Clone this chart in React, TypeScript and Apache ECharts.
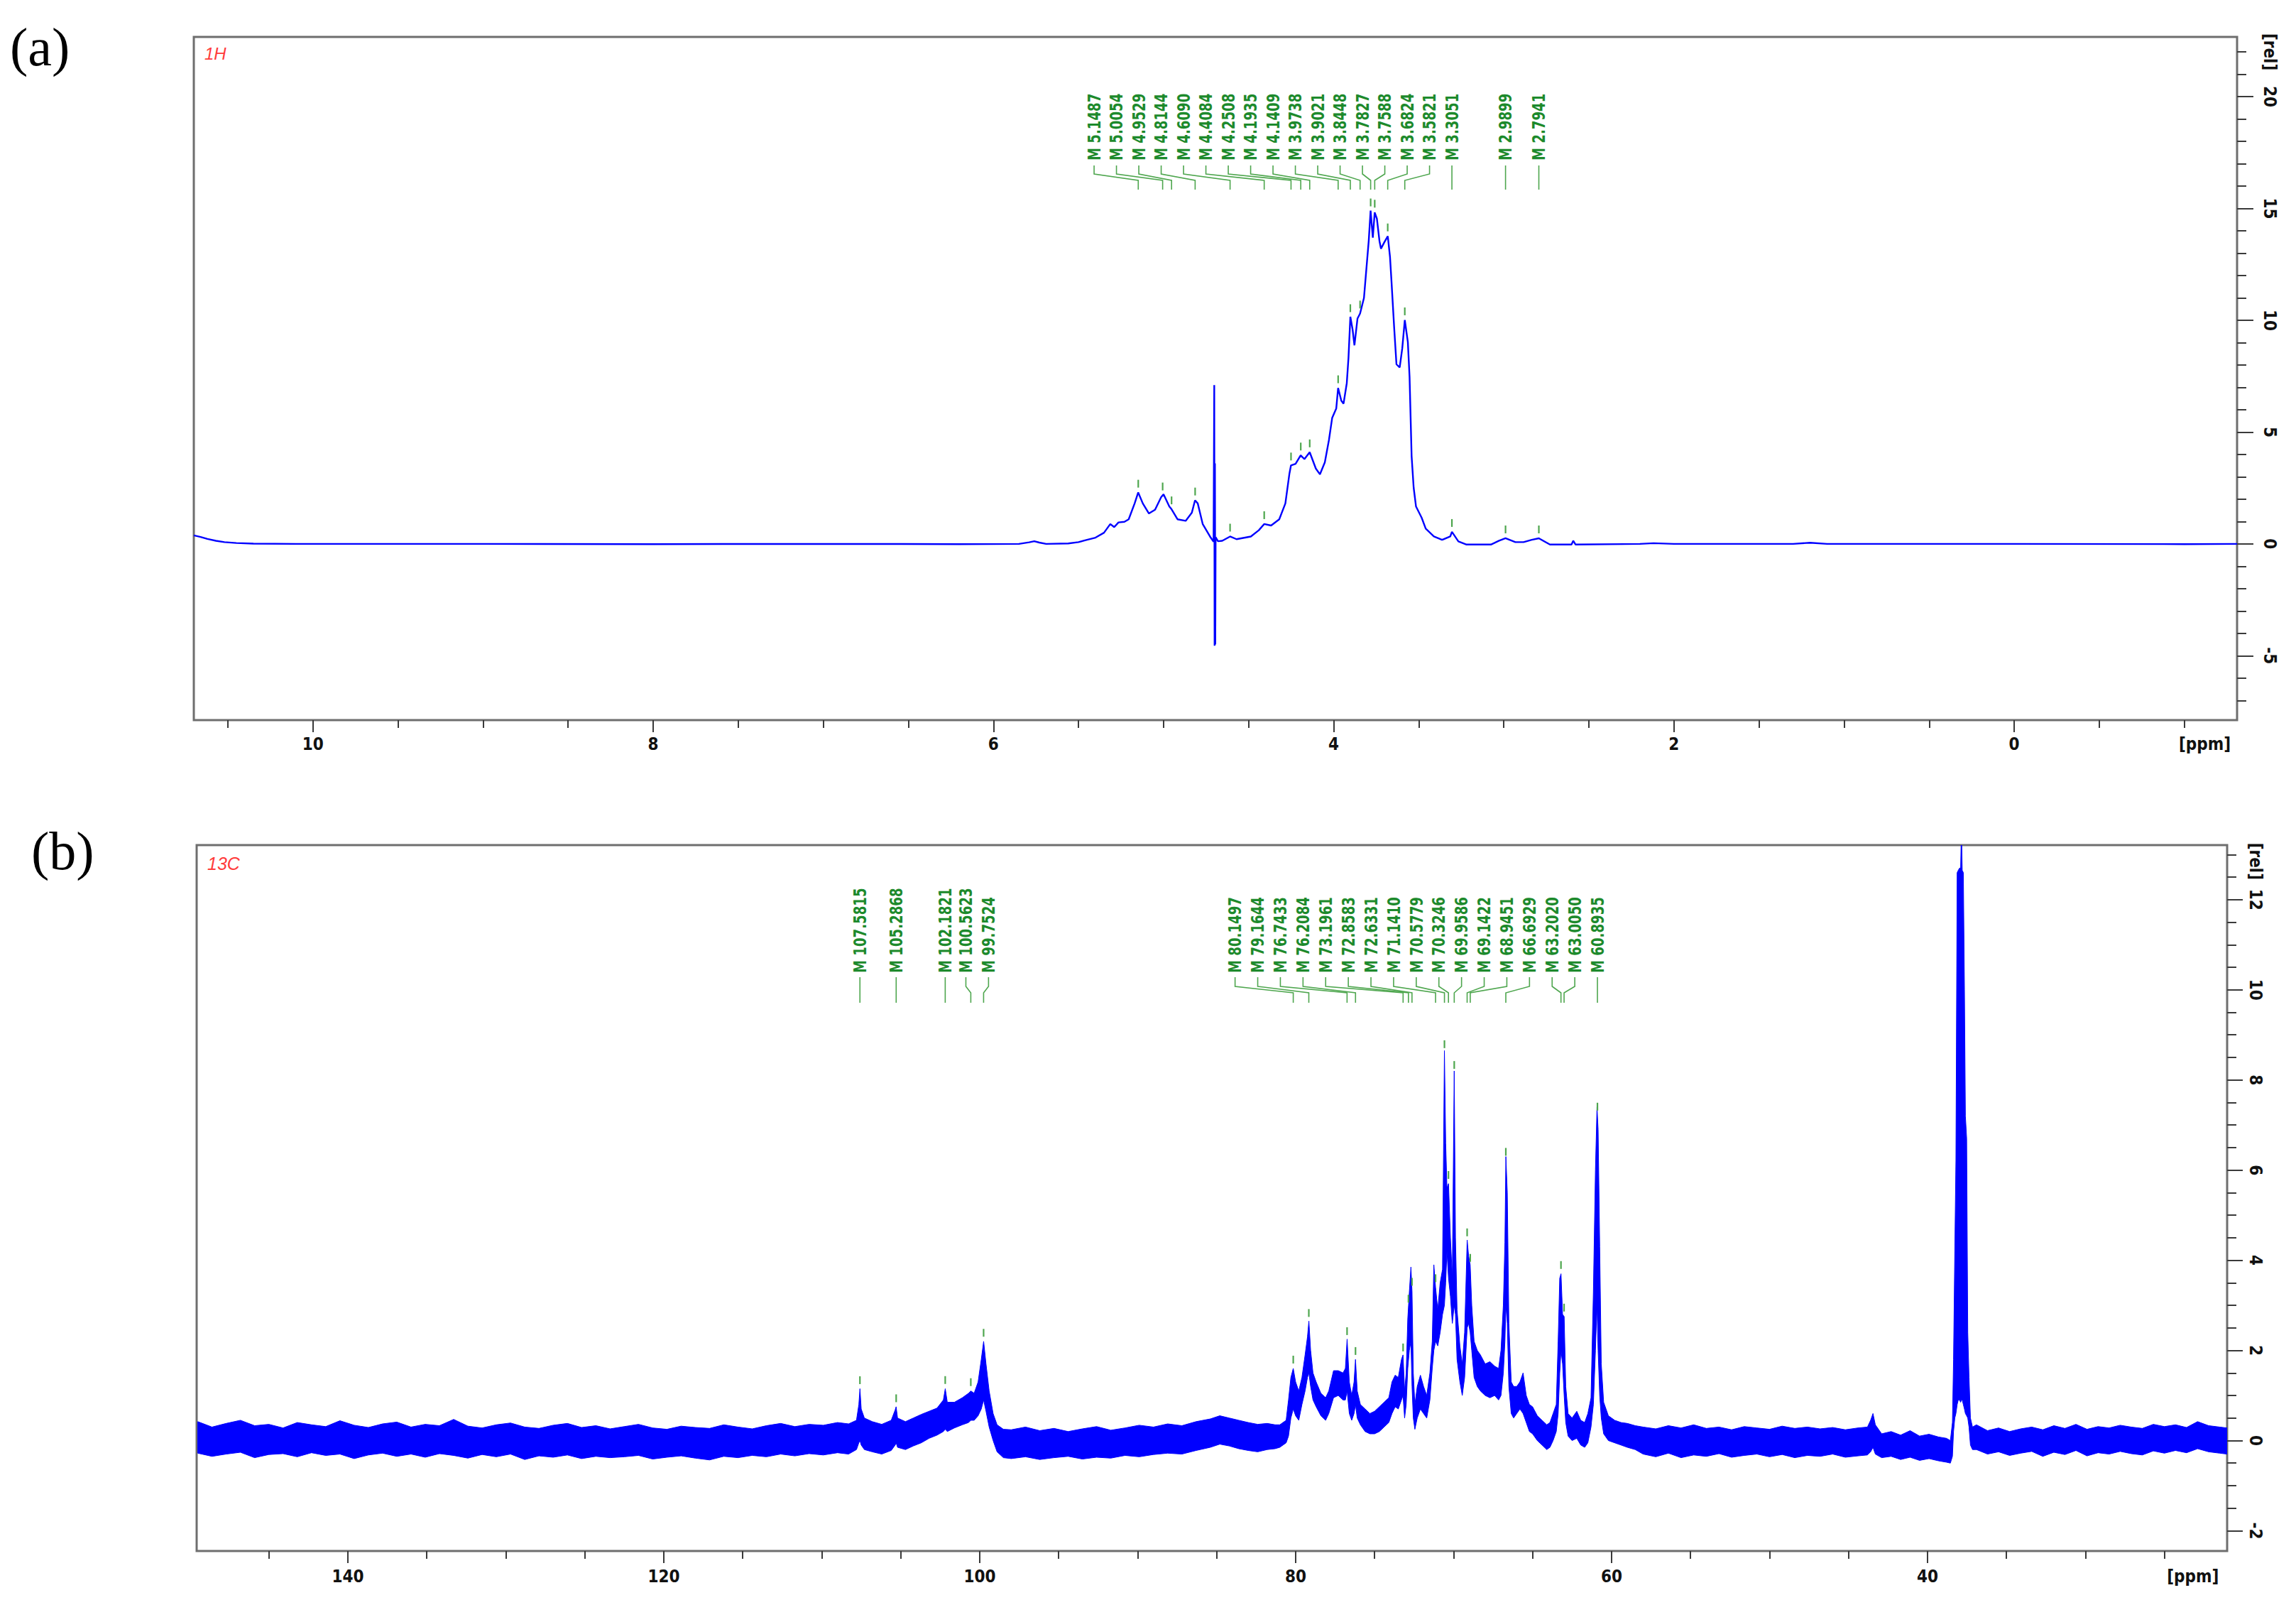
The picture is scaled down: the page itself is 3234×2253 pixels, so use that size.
import React, { useEffect, useRef } from "react";
import * as echarts from "echarts";

// ---------------- 1H spectrum (ppm, intensity) ----------------
const h1Spectrum: number[][] = [
  [10.70, 0.38], [10.66, 0.31], [10.62, 0.22], [10.57, 0.14], [10.52, 0.08], [10.45, 0.04], [10.35, 0.01],
  [10.1, 0.0], [9.0, 0.0], [8.0, -0.01], [7.0, 0.0], [6.2, -0.01], [5.85, 0.0], [5.79, 0.07], [5.76, 0.12],
  [5.73, 0.06], [5.69, 0.0], [5.56, 0.02], [5.5, 0.08], [5.45, 0.18], [5.40, 0.28], [5.35, 0.5], [5.313, 0.89],
  [5.29, 0.75], [5.265, 0.96], [5.23, 0.99], [5.205, 1.1], [5.17, 1.81], [5.149, 2.3], [5.122, 1.81],
  [5.086, 1.36], [5.05, 1.53], [5.014, 2.09], [5.0, 2.22], [4.966, 1.67], [4.953, 1.55], [4.918, 1.1],
  [4.87, 1.03], [4.834, 1.39], [4.815, 1.95], [4.799, 1.81], [4.77, 0.89], [4.727, 0.33], [4.706, 0.1],
  [4.702, 7.1], [4.700, -4.55], [4.698, 3.6], [4.696, -4.5], [4.694, 0.3], [4.68, 0.12], [4.655, 0.14],
  [4.609, 0.33], [4.571, 0.21], [4.487, 0.33], [4.44, 0.61], [4.408, 0.89], [4.368, 0.82], [4.32, 1.1],
  [4.284, 1.81], [4.26, 3.15], [4.251, 3.51], [4.224, 3.58], [4.194, 3.96], [4.172, 3.79], [4.141, 4.1],
  [4.105, 3.37], [4.081, 3.11], [4.052, 3.65], [4.028, 4.64], [4.009, 5.63], [3.985, 6.05], [3.974, 6.97],
  [3.955, 6.4], [3.942, 6.27], [3.923, 7.19], [3.913, 8.32], [3.902, 10.16], [3.889, 9.59], [3.878, 8.88],
  [3.86, 10.08], [3.845, 10.3], [3.822, 11.0], [3.808, 12.28], [3.794, 13.55], [3.783, 14.9], [3.770, 13.69],
  [3.759, 14.82], [3.746, 14.54], [3.731, 13.55], [3.722, 13.2], [3.703, 13.48], [3.682, 13.76],
  [3.669, 12.84], [3.660, 11.71], [3.645, 9.73], [3.631, 8.03], [3.612, 7.89], [3.597, 8.74], [3.582, 10.01],
  [3.564, 9.02], [3.554, 7.47], [3.542, 3.93], [3.530, 2.52], [3.516, 1.67], [3.483, 1.17], [3.459, 0.68],
  [3.411, 0.33], [3.363, 0.18], [3.315, 0.33], [3.305, 0.54], [3.267, 0.11], [3.219, -0.03], [3.076, -0.03],
  [3.028, 0.14], [2.99, 0.25], [2.932, 0.08], [2.884, 0.08], [2.836, 0.18], [2.794, 0.25], [2.729, -0.03],
  [2.602, -0.03], [2.592, 0.14], [2.578, -0.03], [2.2, 0.0], [2.12, 0.03], [2.0, 0.0], [1.3, 0.0],
  [1.2, 0.05], [1.1, 0.0], [0.0, 0.0], [-1.0, -0.01], [-1.31, 0.0],
];
const h1Peaks = [
  5.1487, 5.0054, 4.9529, 4.8144, 4.609, 4.4084, 4.2508, 4.1935, 4.1409, 3.9738, 3.9021, 3.8448,
  3.7827, 3.7588, 3.6824, 3.5821, 3.3051, 2.9899, 2.7941,
];

// ---------------- 13C spectrum: [ppm, upper edge, lower edge] of the noisy trace ----------------
const c13BaselineHigh: number[][] = [
  [149.5, 0.42, -0.28], [148.6, 0.30, -0.35], [147.7, 0.38, -0.30], [146.8, 0.45, -0.26], [145.9, 0.33, -0.38],
  [145.0, 0.36, -0.31], [144.1, 0.28, -0.29], [143.2, 0.40, -0.36], [142.3, 0.35, -0.27], [141.4, 0.31, -0.33],
  [140.5, 0.44, -0.30], [139.6, 0.34, -0.40], [138.7, 0.29, -0.32], [137.8, 0.37, -0.28], [136.9, 0.41, -0.35],
  [136.0, 0.30, -0.30], [135.1, 0.36, -0.37], [134.2, 0.33, -0.29], [133.3, 0.47, -0.33], [132.4, 0.32, -0.39],
  [131.5, 0.28, -0.31], [130.6, 0.35, -0.36], [129.7, 0.39, -0.30], [128.8, 0.30, -0.42], [127.9, 0.27, -0.34],
  [127.0, 0.34, -0.37], [126.1, 0.38, -0.32], [125.2, 0.29, -0.40], [124.3, 0.33, -0.35], [123.4, 0.26, -0.38],
  [122.5, 0.31, -0.36], [121.6, 0.36, -0.33], [120.7, 0.28, -0.41], [119.8, 0.25, -0.37], [118.9, 0.32, -0.34],
  [118.0, 0.29, -0.39], [117.1, 0.27, -0.43], [116.2, 0.35, -0.35], [115.3, 0.30, -0.38], [114.4, 0.26, -0.33],
  [113.5, 0.33, -0.36], [112.6, 0.38, -0.30], [111.7, 0.31, -0.34], [110.8, 0.36, -0.29], [109.9, 0.34, -0.32],
  [109.0, 0.40, -0.27], [108.3, 0.37, -0.30],
];
const c13Anomeric: number[][] = [
  [107.8, 0.45, -0.2], [107.65, 0.8, -0.05], [107.58, 1.15, 0.0], [107.5, 0.7, -0.1], [107.3, 0.5, -0.2],
  [106.8, 0.42, -0.25], [106.2, 0.36, -0.3], [105.6, 0.45, -0.22], [105.35, 0.68, -0.1], [105.29, 0.75, -0.05],
  [105.2, 0.5, -0.15], [104.7, 0.42, -0.2], [104.2, 0.5, -0.12], [103.7, 0.58, -0.05], [103.2, 0.65, 0.05],
  [102.7, 0.72, 0.12], [102.3, 0.9, 0.2], [102.18, 1.15, 0.25], [102.05, 0.85, 0.2], [101.6, 0.85, 0.28],
  [101.1, 0.95, 0.35], [100.7, 1.05, 0.4], [100.56, 1.1, 0.45], [100.35, 1.05, 0.45], [100.1, 1.3, 0.55],
  [99.9, 1.8, 0.7], [99.75, 2.2, 0.9], [99.6, 1.7, 0.65], [99.4, 1.1, 0.3], [99.15, 0.6, 0.0],
  [98.9, 0.35, -0.25], [98.5, 0.25, -0.38],
];
const c13BaselineMid: number[][] = [
  [98.0, 0.24, -0.40], [97.1, 0.30, -0.36], [96.2, 0.22, -0.42], [95.3, 0.27, -0.38], [94.4, 0.20, -0.35],
  [93.5, 0.26, -0.41], [92.6, 0.31, -0.37], [91.7, 0.23, -0.39], [90.8, 0.28, -0.33], [89.9, 0.34, -0.36],
  [89.0, 0.30, -0.31], [88.1, 0.37, -0.28], [87.2, 0.33, -0.30], [86.3, 0.42, -0.22], [85.4, 0.48, -0.15],
  [84.8, 0.55, -0.08], [84.2, 0.50, -0.12], [83.6, 0.45, -0.18], [83.0, 0.40, -0.22], [82.4, 0.36, -0.25],
  [81.8, 0.38, -0.20], [81.3, 0.35, -0.18],
];
const c13Ring: number[][] = [
  [81.0, 0.35, -0.15], [80.6, 0.45, -0.05], [80.45, 0.9, 0.1], [80.3, 1.4, 0.5], [80.15, 1.6, 0.7],
  [80.0, 1.3, 0.55], [79.8, 1.1, 0.45], [79.6, 1.4, 0.8], [79.4, 1.9, 1.1], [79.25, 2.3, 1.4],
  [79.16, 2.65, 1.5], [79.05, 2.0, 1.2], [78.9, 1.5, 0.9], [78.7, 1.3, 0.75], [78.4, 1.05, 0.55],
  [78.1, 0.95, 0.45], [77.9, 1.1, 0.6], [77.6, 1.55, 0.95], [77.3, 1.55, 1.0], [77.0, 1.5, 0.9],
  [76.85, 1.6, 0.9], [76.74, 2.25, 1.1], [76.6, 1.3, 0.6], [76.45, 1.0, 0.45], [76.3, 1.3, 0.6],
  [76.21, 1.8, 0.8], [76.1, 1.1, 0.5], [75.9, 0.8, 0.35], [75.6, 0.7, 0.2], [75.3, 0.6, 0.15],
  [75.0, 0.65, 0.15], [74.7, 0.75, 0.2], [74.4, 0.85, 0.3], [74.1, 0.95, 0.4], [73.9, 1.3, 0.6],
  [73.7, 1.45, 0.75], [73.5, 1.4, 0.7], [73.3, 1.8, 0.9], [73.2, 1.9, 1.0], [73.1, 1.1, 0.5],
  [73.0, 1.5, 0.8], [72.9, 2.7, 1.6], [72.8, 3.3, 2.0], [72.7, 3.85, 2.2], [72.63, 3.3, 1.2],
  [72.55, 1.5, 0.5], [72.45, 0.8, 0.25], [72.3, 1.2, 0.5], [72.1, 1.45, 0.7], [71.9, 1.2, 0.6],
  [71.7, 1.0, 0.5], [71.5, 1.5, 0.9], [71.35, 2.2, 1.6], [71.25, 3.9, 2.0], [71.14, 3.4, 2.2],
  [71.0, 2.9, 2.1], [70.85, 3.5, 2.4], [70.7, 3.8, 2.8], [70.58, 8.65, 3.0], [70.5, 6.6, 3.5],
  [70.42, 5.6, 4.2], [70.32, 5.7, 3.6], [70.2, 4.5, 3.2], [70.08, 3.6, 2.6], [69.96, 8.2, 3.0],
  [69.88, 4.5, 2.8], [69.78, 2.9, 1.8], [69.6, 2.1, 1.3], [69.45, 1.7, 1.0], [69.3, 2.4, 1.4],
  [69.14, 4.45, 2.5], [69.05, 4.1, 2.6], [68.95, 3.9, 2.4], [68.85, 3.0, 2.0], [68.7, 2.2, 1.4],
  [68.5, 2.0, 1.2], [68.3, 1.9, 1.1], [68.0, 1.7, 1.0], [67.7, 1.75, 0.95], [67.4, 1.65, 1.0],
  [67.15, 1.6, 0.9], [67.0, 2.0, 1.0], [66.85, 3.0, 1.5], [66.75, 4.4, 2.2], [66.69, 6.3, 3.0],
  [66.6, 5.5, 2.6], [66.5, 2.6, 1.2], [66.35, 1.3, 0.6], [66.2, 1.2, 0.5], [66.0, 1.2, 0.6],
  [65.8, 1.3, 0.7], [65.6, 1.5, 0.6], [65.4, 1.0, 0.4], [65.2, 0.8, 0.2], [65.0, 0.75, 0.15],
  [64.7, 0.55, 0.0], [64.4, 0.45, -0.1], [64.1, 0.35, -0.2], [63.9, 0.4, -0.15], [63.7, 0.6, 0.0],
  [63.5, 0.8, 0.2], [63.38, 2.2, 0.6], [63.28, 3.6, 1.5], [63.2, 3.7, 2.0], [63.1, 2.8, 1.7],
  [63.0, 2.75, 1.0], [62.9, 1.2, 0.4], [62.75, 0.6, 0.1], [62.5, 0.5, 0.0], [62.2, 0.65, 0.05],
  [61.95, 0.45, -0.1], [61.7, 0.4, -0.15], [61.5, 0.6, -0.05], [61.3, 0.95, 0.3], [61.15, 3.3, 0.8],
  [61.02, 6.0, 2.0], [60.92, 7.4, 3.0], [60.85, 6.9, 2.0], [60.75, 4.3, 1.0], [60.65, 1.7, 0.5],
  [60.5, 0.85, 0.15], [60.2, 0.55, 0.0], [59.8, 0.45, -0.05], [59.4, 0.4, -0.1], [59.0, 0.38, -0.15],
  [58.5, 0.33, -0.2],
];
const c13BaselineLow: number[][] = [
  [58.0, 0.30, -0.30], [57.2, 0.26, -0.36], [56.4, 0.33, -0.28], [55.6, 0.28, -0.38], [54.8, 0.35, -0.32],
  [54.0, 0.27, -0.35], [53.2, 0.30, -0.29], [52.4, 0.24, -0.37], [51.6, 0.31, -0.33], [50.8, 0.28, -0.30],
  [50.0, 0.25, -0.36], [49.2, 0.32, -0.31], [48.4, 0.27, -0.38], [47.6, 0.30, -0.33], [46.8, 0.26, -0.35],
  [46.0, 0.29, -0.30], [45.2, 0.24, -0.37], [44.4, 0.28, -0.34], [43.8, 0.30, -0.32], [43.6, 0.45, -0.25],
  [43.45, 0.6, -0.15], [43.3, 0.35, -0.3], [42.9, 0.15, -0.38], [42.3, 0.20, -0.35], [41.7, 0.12, -0.42],
  [41.1, 0.22, -0.37], [40.5, 0.10, -0.44], [39.9, 0.14, -0.40], [39.3, 0.08, -0.45], [38.8, 0.05, -0.48],
  [38.55, 0.0, -0.5],
];
const c13Solvent: number[][] = [
  [38.42, 0.4, -0.35], [38.35, 1.8, 0.2], [38.27, 4.2, 0.5], [38.2, 6.2, 0.6], [38.12, 12.6, 0.8],
  [38.05, 12.65, 0.9], [37.97, 12.7, 0.9], [37.9, 12.7, 0.85], [37.85, 13.6, 0.9], [37.8, 12.65, 0.9],
  [37.73, 12.6, 0.8], [37.66, 10.0, 0.7], [37.6, 7.2, 0.6], [37.52, 6.7, 0.55], [37.45, 2.4, 0.5],
  [37.37, 1.4, 0.3], [37.28, 0.5, -0.1], [37.15, 0.3, -0.2],
];
const c13BaselineEnd: number[][] = [
  [36.9, 0.35, -0.20], [36.2, 0.22, -0.30], [35.5, 0.28, -0.25], [34.8, 0.20, -0.33], [34.1, 0.26, -0.28],
  [33.4, 0.30, -0.24], [32.7, 0.24, -0.35], [32.0, 0.33, -0.26], [31.3, 0.27, -0.31], [30.6, 0.36, -0.22],
  [29.9, 0.25, -0.34], [29.2, 0.31, -0.27], [28.5, 0.28, -0.30], [27.8, 0.34, -0.24], [27.1, 0.30, -0.29],
  [26.4, 0.27, -0.32], [25.7, 0.36, -0.23], [25.0, 0.31, -0.28], [24.3, 0.35, -0.22], [23.6, 0.29, -0.27],
  [22.9, 0.42, -0.18], [22.2, 0.33, -0.25], [21.5, 0.30, -0.28], [21.03, 0.28, -0.30],
];
const c13Peaks = [
  107.5815, 105.2868, 102.1821, 100.5623, 99.7524, 80.1497, 79.1644, 76.7433, 76.2084, 73.1961, 72.8583,
  72.6331, 71.141, 70.5779, 70.3246, 69.9586, 69.1422, 68.9451, 66.6929, 63.202, 63.005, 60.8935,
];

// ---------------- axes ticks ----------------
const h1MajorX = [10, 8, 6, 4, 2, 0];
const h1MinorX = [10.5, 9.5, 9, 8.5, 7.5, 7, 6.5, 5.5, 5, 4.5, 3.5, 3, 2.5, 1.5, 1, 0.5, -0.5, -1];
const h1MajorY = [-5, 0, 5, 10, 15, 20];
const h1MinorY = [-7, -6, -4, -3, -2, -1, 1, 2, 3, 4, 6, 7, 8, 9, 11, 12, 13, 14, 16, 17, 18, 19, 21, 22];
const c13MajorX = [140, 120, 100, 80, 60, 40];
const c13MinorX = [145, 135, 130, 125, 115, 110, 105, 95, 90, 85, 75, 70, 65, 55, 50, 45, 35, 30, 25];
const c13MajorY = [-2, 0, 2, 4, 6, 8, 10, 12];
const c13MinorY = [-1.5, -1, -0.5, 0.5, 1, 1.5, 2.5, 3, 3.5, 4.5, 5, 5.5, 6.5, 7, 7.5, 8.5, 9, 9.5, 10.5, 11, 11.5, 12.5, 13];

// ---------------- styles ----------------
const BLUE = "#0000ff";
const GREEN_TEXT = "#1d8a2c";
const GREEN_LINE = "#4ea64e";
const AXIS_FONT = '"Liberation Sans Narrow", "DejaVu Sans Condensed", "Liberation Sans", Arial, sans-serif';
const H1_PPM_LABEL_AT = -1.12;
const H1_REL_LABEL_AT = 22.0;
const C13_PPM_LABEL_AT = 23.2;
const C13_REL_LABEL_AT = 12.85;

function interp(xs: number[], ys: number[], p: number): number {
  for (let i = 0; i < xs.length - 1; i++) {
    const a = xs[i], b = xs[i + 1];
    if ((a >= p && p >= b) || (a <= p && p <= b)) {
      const t = a === b ? 0 : (p - a) / (b - a);
      return ys[i] + t * (ys[i + 1] - ys[i]);
    }
  }
  return 0;
}

// spread overlapping labels evenly (pixel space, ascending x)
function layoutLabels(desired: number[], gap: number): number[] {
  const clusters: { start: number; end: number; sum: number }[] = [];
  for (let i = 0; i < desired.length; i++) {
    clusters.push({ start: i, end: i, sum: desired[i] });
    while (clusters.length > 1) {
      const b = clusters[clusters.length - 1];
      const a = clusters[clusters.length - 2];
      const na = a.end - a.start + 1;
      const nb = b.end - b.start + 1;
      const aRight = a.sum / na + ((na - 1) / 2) * gap;
      const bLeft = b.sum / nb - ((nb - 1) / 2) * gap;
      if (bLeft - aRight < gap * 0.85) {
        clusters.pop();
        a.end = b.end;
        a.sum += b.sum;
      } else break;
    }
  }
  const out: number[] = [];
  for (const c of clusters) {
    const n = c.end - c.start + 1;
    if (n <= 2) {
      const center = c.sum / n;
      for (let k = 0; k < n; k++) out[c.start + k] = center + (k - (n - 1) / 2) * gap;
    } else {
      const right = desired[c.end];
      for (let k = 0; k < n; k++) out[c.start + k] = right - (n - 1 - k) * gap;
    }
  }
  return out;
}

function makeAnnotations(
  peaks: number[],
  curveX: number[],
  curveY: number[],
  gap: number,
  offs: { text: number; a: number; b: number; c: number; d: number }
) {
  return (params: any, api: any) => {
    const cs = params.coordSys;
    const desired = peaks.map((p) => api.coord([p, 0])[0]);
    const lx = layoutLabels(desired, gap);
    const y0 = cs.y;
    const children: any[] = [];
    peaks.forEach((p, i) => {
      const P = desired[i];
      const L = lx[i];
      children.push({
        type: "text",
        x: L,
        y: y0 + offs.text,
        rotation: Math.PI / 2,
        scaleX: 0.84,
        style: {
          text: "M " + p.toFixed(4),
          fill: GREEN_TEXT,
          fontSize: 24,
          fontFamily: AXIS_FONT,
          fontWeight: "bold",
          align: "left",
          verticalAlign: "middle",
        },
      });
      children.push({
        type: "polyline",
        shape: { points: [[L, y0 + offs.a], [L, y0 + offs.b], [P, y0 + offs.c], [P, y0 + offs.d]] },
        style: { stroke: GREEN_LINE, lineWidth: 1.6, fill: null },
      });
      const v = interp(curveX, curveY, p);
      const yp = api.coord([p, v])[1];
      children.push({
        type: "line",
        shape: { x1: P, y1: yp - 18, x2: P, y2: yp - 7 },
        style: { stroke: GREEN_LINE, lineWidth: 2.2 },
      });
    });
    return { type: "group", children };
  };
}

function tickAxes(
  gridIndex: number,
  kind: "x" | "y",
  min: number,
  max: number,
  major: number[],
  minor: number[],
  unitLabel: string,
  unitAt: number,
  margin: number,
  majorLen: number,
  minorLen: number
) {
  const base: any = {
    gridIndex,
    type: "value",
    min,
    max,
    position: kind === "x" ? "bottom" : "right",
    inverse: kind === "x",
    axisLine: { show: false, onZero: false },
    splitLine: { show: false },
  };
  return [
    {
      ...base,
      axisTick: { show: true, customValues: major, length: majorLen, lineStyle: { color: "#3a3a3a", width: 2 } },
      axisLabel: {
        show: true,
        customValues: [...major, unitAt],
        formatter: (v: number) => (Math.abs(v - unitAt) < 1e-9 ? unitLabel : String(v)),
        margin,
        rotate: kind === "y" ? -90 : 0,
        color: "#111",
        fontFamily: AXIS_FONT,
        fontWeight: "bold",
        fontSize: 24,
      },
    },
    {
      ...base,
      axisTick: { show: true, customValues: minor, length: minorLen, lineStyle: { color: "#3a3a3a", width: 2 } },
      axisLabel: { show: false },
    },
  ];
}

export default function App() {
  const ref = useRef<HTMLDivElement>(null);
  useEffect(() => {
    if (!ref.current) return;
    const chart = echarts.init(ref.current, undefined, { renderer: "svg" });

    const hX = h1Spectrum.map((d) => d[0]);
    const hY = h1Spectrum.map((d) => d[1]);
    const c13 = [
      ...c13BaselineHigh,
      ...c13Anomeric,
      ...c13BaselineMid,
      ...c13Ring,
      ...c13BaselineLow,
      ...c13Solvent,
      ...c13BaselineEnd,
    ];
    const cX = c13.map((d) => d[0]);
    const cUp = c13.map((d) => d[1]);
    const cLo = c13.map((d) => d[2]);

    const xTop = tickAxes(0, "x", -1.31, 10.7, h1MajorX, h1MinorX, "[ppm]", H1_PPM_LABEL_AT, 22, 17, 11);
    const xBot = tickAxes(1, "x", 21.03, 149.57, c13MajorX, c13MinorX, "[ppm]", C13_PPM_LABEL_AT, 24, 17, 11);
    const yTop = tickAxes(0, "y", -7.88, 22.67, h1MajorY, h1MinorY, "[rel]", H1_REL_LABEL_AT, 34, 23, 13);
    const yBot = tickAxes(1, "y", -2.45, 13.21, c13MajorY, c13MinorY, "[rel]", C13_REL_LABEL_AT, 28, 22, 13);

    const option: any = {
      animation: false,
      backgroundColor: "#ffffff",
      grid: [
        {
          left: 273, top: 52, width: 2878, height: 962, show: true, borderColor: "#6e6e6e", borderWidth: 3,
          containLabel: false, outerBoundsMode: "none",
        },
        {
          left: 277, top: 1190, width: 2860, height: 994, show: true, borderColor: "#6e6e6e", borderWidth: 3,
          containLabel: false, outerBoundsMode: "none",
        },
      ],
      xAxis: [...xTop, ...xBot],
      yAxis: [...yTop, ...yBot],
      graphic: [
        { type: "text", left: 14, top: 28, style: { text: "(a)", fill: "#000", font: '76px "Liberation Serif", serif' } },
        { type: "text", left: 44, top: 1160, style: { text: "(b)", fill: "#000", font: '76px "Liberation Serif", serif' } },
        { type: "text", left: 288, top: 63, style: { text: "1H", fill: "#ff3b3b", font: 'italic 24px "Liberation Sans", sans-serif' } },
        { type: "text", left: 292, top: 1203, style: { text: "13C", fill: "#ff3b3b", font: 'italic 25px "Liberation Sans", sans-serif' } },
      ],
      series: [
        {
          type: "line",
          xAxisIndex: 0,
          yAxisIndex: 0,
          data: h1Spectrum,
          showSymbol: false,
          symbol: "none",
          clip: true,
          lineStyle: { color: BLUE, width: 2.4 },
          z: 3,
        },
        {
          type: "custom",
          xAxisIndex: 0,
          yAxisIndex: 0,
          coordinateSystem: "cartesian2d",
          data: [[5, 0]],
          silent: true,
          clip: false,
          z: 4,
          renderItem: makeAnnotations(h1Peaks, hX, hY, 31.5, { text: 174, a: 181, b: 193, c: 202, d: 215 }),
        },
        {
          type: "custom",
          xAxisIndex: 2,
          yAxisIndex: 2,
          coordinateSystem: "cartesian2d",
          data: [[100, 0]],
          silent: true,
          clip: true,
          z: 3,
          renderItem: (params: any, api: any) => {
            const pts: number[][] = [];
            for (let i = 0; i < cX.length; i++) pts.push(api.coord([cX[i], cUp[i]]));
            for (let i = cX.length - 1; i >= 0; i--) pts.push(api.coord([cX[i], cLo[i]]));
            const cs = params.coordSys;
            return {
              type: "polygon",
              shape: { points: pts },
              style: { fill: BLUE, stroke: BLUE, lineWidth: 1 },
              clipPath: { type: "rect", shape: { x: cs.x, y: cs.y, width: cs.width, height: cs.height } },
            };
          },
        },
        {
          type: "custom",
          xAxisIndex: 2,
          yAxisIndex: 2,
          coordinateSystem: "cartesian2d",
          data: [[100, 0]],
          silent: true,
          clip: false,
          z: 4,
          renderItem: makeAnnotations(c13Peaks, cX, cUp, 31.9, { text: 180, a: 186, b: 199, c: 208, d: 222 }),
        },
      ],
    };
    chart.setOption(option);
    return () => chart.dispose();
  }, []);

  return (
    <div
      ref={ref}
      style={{ position: "absolute", left: 0, top: 0, width: 3234, height: 2253, background: "#fff" }}
    />
  );
}
